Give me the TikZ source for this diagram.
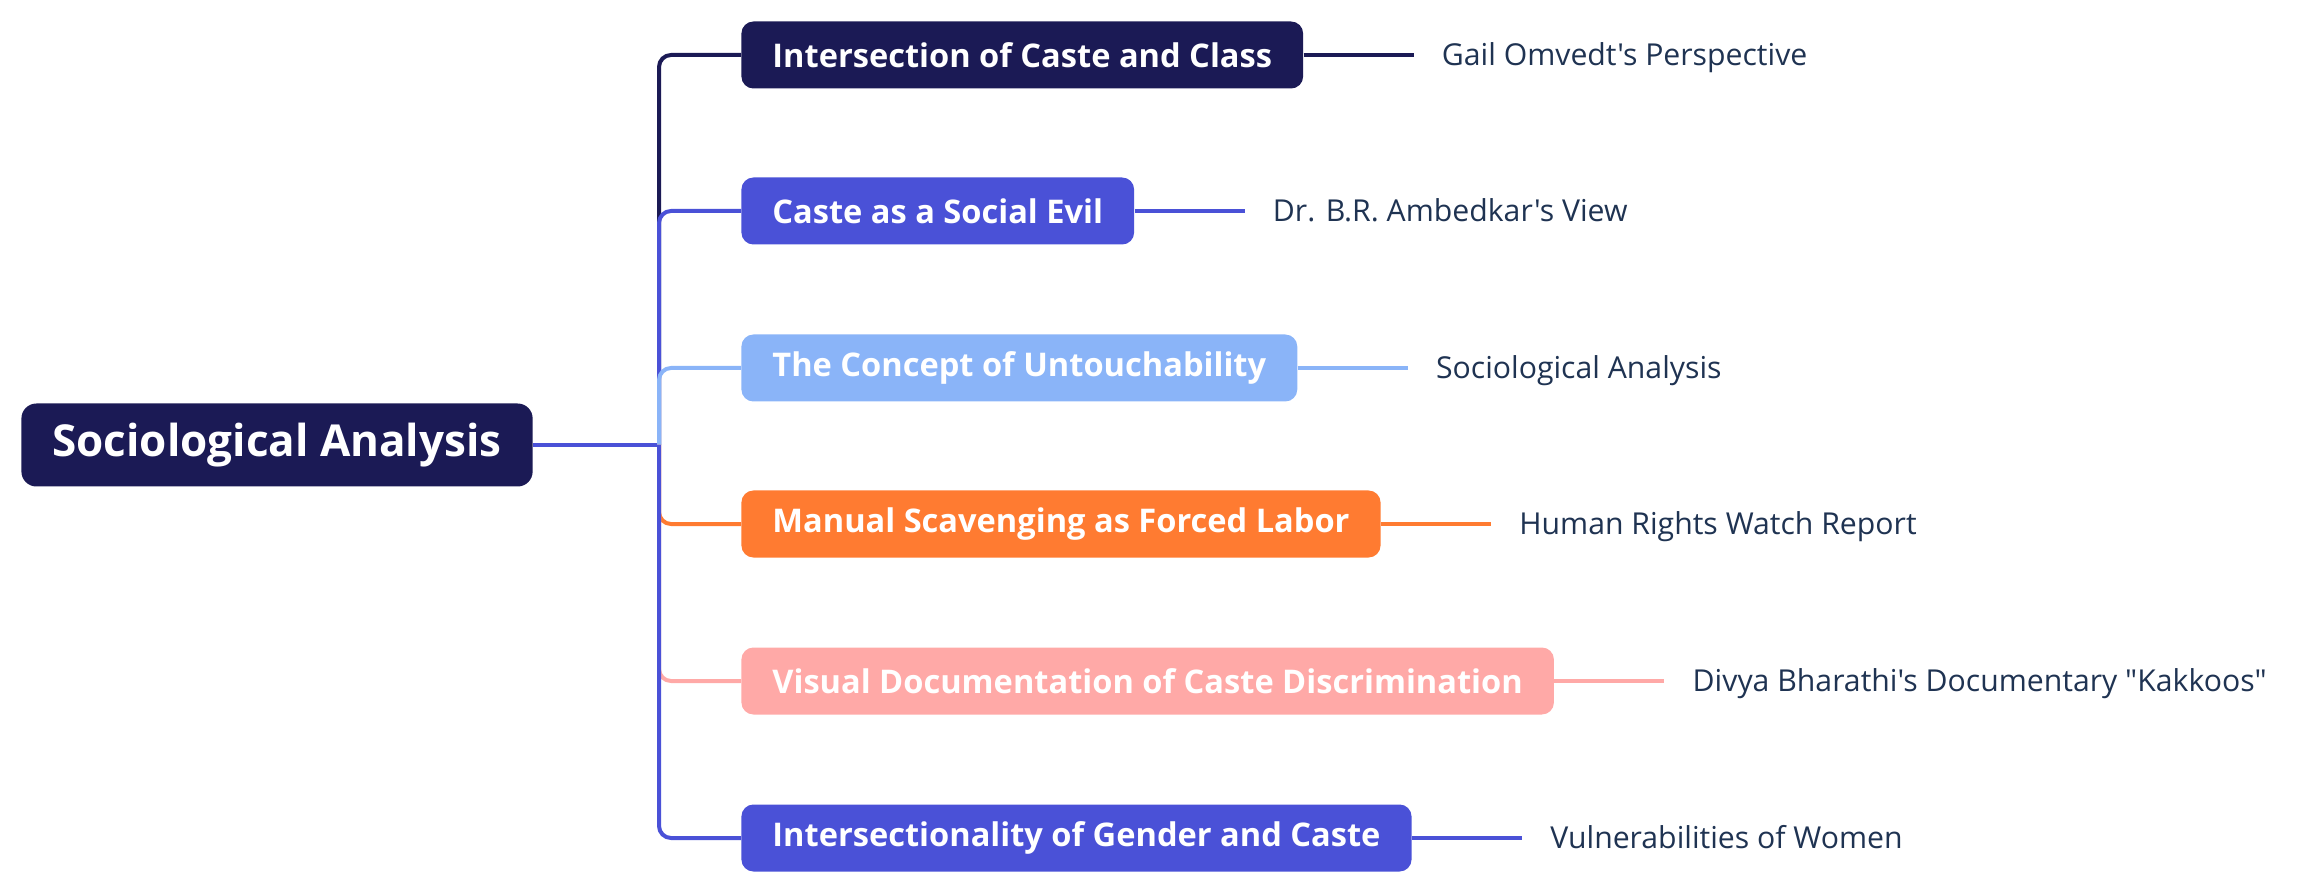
\documentclass[tikz,border=0pt]{standalone}
\usepackage{fontspec}
\setmainfont{Open Sans}[Ligatures=TeXOff]
\usetikzlibrary{positioning}
\definecolor{navy}{HTML}{1B1A55}
\definecolor{anil}{HTML}{4A51D7}
\definecolor{ceu}{HTML}{8AB4F8}
\definecolor{laranja}{HTML}{FF7B31}
\definecolor{rosa}{HTML}{FFA9A7}
\definecolor{ardosia}{HTML}{1F3352}
\tikzset{
  raiz/.style={rounded corners=7.5pt, fill=navy, text=white, anchor=west,
    font=\fontsize{22}{26}\selectfont\bfseries, inner xsep=15.5pt, minimum height=41.5pt},
  tema/.style={rounded corners=6pt, text=white, anchor=west,
    font=\fontsize{16.3}{19}\selectfont\bfseries, inner xsep=15.5pt, minimum height=33.5pt},
  folha/.style={text=ardosia, anchor=west, font=\fontsize{15.1}{18}\selectfont,
    inner xsep=14pt, text height=13.8pt, text depth=3pt},
  ramo/.style={line width=2pt, rounded corners=6pt},
}
\begin{document}
\begin{tikzpicture}[x=0.5pt, y=-0.5pt]
            \useasboundingbox (0,0) rectangle (2316,876);
            %nós
            \node[raiz] (r) at (21,445) {Sociological Analysis};
            \coordinate (t) at (659,445);
            \node[tema, fill=navy] (c1) at (741,55) {Intersection of Caste and Class};
            \node[tema, fill=anil] (c2) at (741,211) {Caste as a Social Evil};
            \node[tema, fill=ceu] (c3) at (741,368) {The Concept of Untouchability};
            \node[tema, fill=laranja] (c4) at (741,524) {Manual Scavenging as Forced Labor};
            \node[tema, fill=rosa] (c5) at (741,681) {Visual Documentation of Caste Discrimination};
            \node[tema, fill=anil] (c6) at (741,838) {Intersectionality of Gender and Caste};
            \node[folha, right=55pt of c1] (l1) {Gail Omvedt's Perspective};
            \node[folha, right=55pt of c2] (l2) {Dr. B.R. Ambedkar's View};
            \node[folha, right=55pt of c3] (l3) {Sociological Analysis};
            \node[folha, right=55pt of c4] (l4) {Human Rights Watch Report};
            \node[folha, right=55pt of c5] (l5) {Divya Bharathi's Documentary "Kakkoos"};
            \node[folha, right=55pt of c6] (l6) {Vulnerabilities of Women};

            %ramos
            \draw[ramo, anil] (r.east) -- (t);
            \draw[ramo, navy] (t) |- (c1.west);
            \draw[ramo, anil] (t) |- (c2.west);
            \draw[ramo, ceu] (t) |- (c3.west);
            \draw[ramo, laranja] (t) |- (c4.west);
            \draw[ramo, rosa] (t) |- (c5.west);
            \draw[ramo, anil] (t) |- (c6.west);
            \draw[ramo, navy] (c1.east) -- (l1.west);
            \draw[ramo, anil] (c2.east) -- (l2.west);
            \draw[ramo, ceu] (c3.east) -- (l3.west);
            \draw[ramo, laranja] (c4.east) -- (l4.west);
            \draw[ramo, rosa] (c5.east) -- (l5.west);
            \draw[ramo, anil] (c6.east) -- (l6.west);
\end{tikzpicture}
\end{document}
